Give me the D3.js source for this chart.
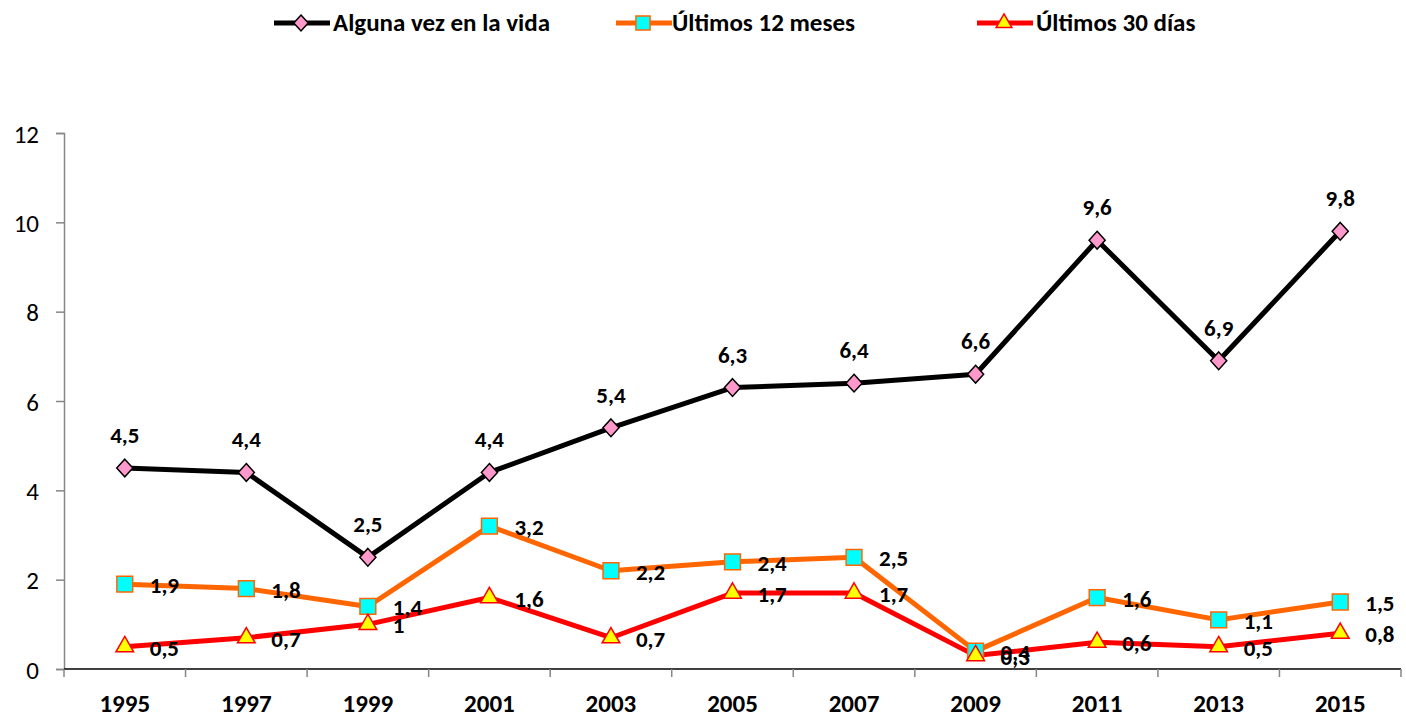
<!DOCTYPE html>
<html>
<head>
<meta charset="utf-8">
<script src="https://cdn.jsdelivr.net/npm/d3@7"></script>
<style>
  body { margin: 0; background: #fff; }
  svg text { font-family: Carlito, Lato, "Open Sans", sans-serif; }
</style>
</head>
<body>
<div id="chart"></div>
<script>
const years = ["1995", "1997", "1999", "2001", "2003", "2005", "2007", "2009", "2011", "2013", "2015"];
const alguna = [4.5, 4.4, 2.5, 4.4, 5.4, 6.3, 6.4, 6.6, 9.6, 6.9, 9.8];
const ultimos12 = [1.9, 1.8, 1.4, 3.2, 2.2, 2.4, 2.5, 0.4, 1.6, 1.1, 1.5];
const ultimos30 = [0.5, 0.7, 1.0, 1.6, 0.7, 1.7, 1.7, 0.3, 0.6, 0.5, 0.8];
const yTicks = [0, 2, 4, 6, 8, 10, 12];

// diamond = square turned 45 degrees
const diamond = {
    draw(ctx, size) {
        const r = Math.sqrt(size / 2);
        ctx.moveTo(0, -r * 1.1); ctx.lineTo(r, 0); ctx.lineTo(0, r * 1.1); ctx.lineTo(-r, 0); ctx.closePath();
    }
};

const series = [
    {name: "Alguna vez en la vida", values: alguna, line: "#000000", fill: "#ff99cc", stroke: "#000000", symbol: diamond, size: 130, label: "above", lx: 301, tx: 333},
    {name: "Últimos 12 meses", values: ultimos12, line: "#ff6600", fill: "#00ffff", stroke: "#ff6600", symbol: d3.symbolSquare, size: 250, label: "right", lx: 643, tx: 672},
    {name: "Últimos 30 días", values: ultimos30, line: "#ff0000", fill: "#ffff00", stroke: "#ff0000", symbol: d3.symbolTriangle, size: 135, label: "right", lx: 1004, tx: 1036}
];

const W = 1406, H = 718;
const margin = {top: 133, right: 5, bottom: 49, left: 64};

const svg = d3.select("#chart").append("svg")
    .attr("width", W).attr("height", H);

const x = d3.scaleBand()
    .domain(years)
    .range([margin.left, W - margin.right]);

const y = d3.scaleLinear()
    .domain([0, 12])
    .range([H - margin.bottom, margin.top]);

const fmt = v => String(v).replace(".", ",");
const cx = (i) => x(years[i]) + x.bandwidth() / 2;

// y axis
const yAxis = svg.append("g")
    .attr("transform", `translate(${margin.left},0)`)
    .call(d3.axisLeft(y).tickValues(yTicks).tickSize(8).tickPadding(17).tickFormat(d => d));
yAxis.select(".domain").attr("stroke", "#868686").attr("stroke-width", 1.5);
yAxis.selectAll(".tick line").attr("stroke", "#868686").attr("stroke-width", 1.5);
yAxis.selectAll("text").attr("font-size", 25).attr("fill", "#000").attr("dy", "0.36em")
    .style("font-family", "Carlito, Lato, 'Open Sans', sans-serif");

// x axis: line + ticks between categories
const x0 = y(0);
svg.append("line")
    .attr("x1", margin.left).attr("x2", W - margin.right)
    .attr("y1", x0).attr("y2", x0)
    .attr("stroke", "#000").attr("stroke-width", 1.5);
const bounds = years.map(d => x(d)).concat([x(years[years.length - 1]) + x.bandwidth()]);
svg.selectAll(".xtick").data(bounds).join("line")
    .attr("x1", d => d).attr("x2", d => d)
    .attr("y1", x0).attr("y2", x0 + 8)
    .attr("stroke", "#868686").attr("stroke-width", 1.5);
svg.selectAll(".xlab").data(years).join("text")
    .attr("x", d => x(d) + x.bandwidth() / 2)
    .attr("y", x0 + 43)
    .attr("text-anchor", "middle")
    .attr("font-size", 25).attr("font-weight", "bold")
    .text(d => d);

// lines
const line = d3.line()
    .x((d, i) => cx(i))
    .y(d => y(d));

series.forEach(s => {
    svg.append("path")
        .datum(s.values)
        .attr("fill", "none")
        .attr("stroke", s.line)
        .attr("stroke-width", 5)
        .attr("stroke-linejoin", "round")
        .attr("d", line);
});

// markers + labels
series.forEach(s => {
    const sym = d3.symbol().type(s.symbol).size(s.size);
    svg.selectAll(null).data(s.values).join("path")
        .attr("transform", (d, i) => `translate(${cx(i)},${y(d)})`)
        .attr("d", sym)
        .attr("fill", s.fill)
        .attr("stroke", s.stroke)
        .attr("stroke-width", 1.5);

    svg.selectAll(null).data(s.values).join("text")
        .attr("x", (d, i) => cx(i) + (s.label === "above" ? 0 : 25))
        .attr("y", d => y(d) + (s.label === "above" ? -25 : 9))
        .attr("text-anchor", s.label === "above" ? "middle" : "start")
        .attr("font-size", 23).attr("font-weight", "bold")
        .text(d => fmt(d));
});

// legend
series.forEach(s => {
    const g = svg.append("g").attr("transform", `translate(${s.lx},23)`);
    g.append("line").attr("x1", -27).attr("x2", 29).attr("y1", 0).attr("y2", 0)
        .attr("stroke", s.line).attr("stroke-width", 5);
    g.append("path").attr("d", d3.symbol().type(s.symbol).size(s.size * 0.8))
        .attr("fill", s.fill).attr("stroke", s.stroke).attr("stroke-width", 1.5);
    svg.append("text")
        .attr("x", s.tx).attr("y", 31)
        .attr("font-size", 25).attr("font-weight", "bold")
        .text(s.name);
});
</script>
</body>
</html>
